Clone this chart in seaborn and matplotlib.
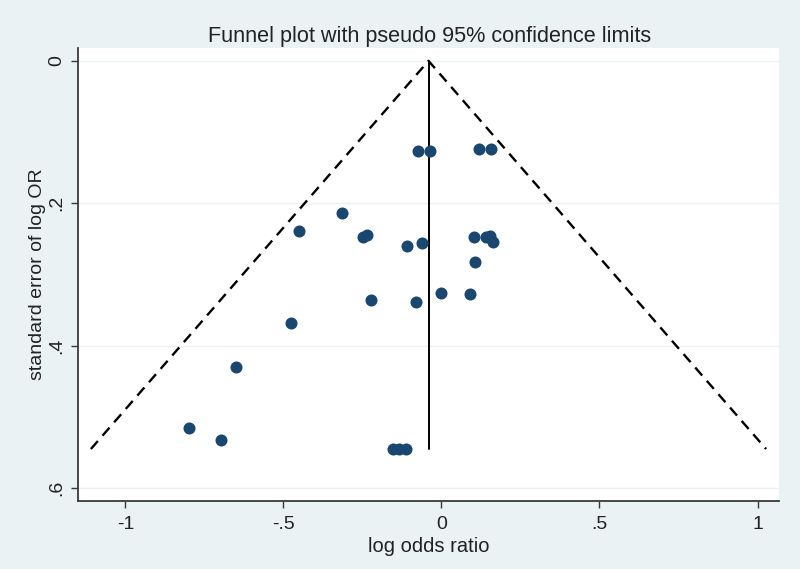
import numpy as np
import pandas as pd
import matplotlib
matplotlib.use("Agg")
import matplotlib.pyplot as plt
import seaborn as sns

# Study estimates (log odds ratio) and their standard errors
log_or = [-0.075, -0.036, 0.119, 0.157, -0.316, -0.450, -0.249, -0.237,
          -0.110, -0.061, 0.103, 0.141, 0.153, 0.162, 0.106, -0.224,
          -0.081, -0.002, 0.091, -0.477, -0.650, -0.799, -0.698,
          -0.153, -0.133, -0.112]
se_log_or = [0.126, 0.126, 0.124, 0.124, 0.213, 0.239, 0.248, 0.245,
             0.260, 0.256, 0.248, 0.248, 0.246, 0.254, 0.283, 0.336,
             0.338, 0.326, 0.328, 0.368, 0.430, 0.515, 0.533,
             0.545, 0.545, 0.545]
pooled_log_or = -0.041
z95 = 1.96

x_ticks = [-1, -0.5, 0, 0.5, 1]
x_tick_labels = ["-1", "-.5", "0", ".5", "1"]
y_ticks = [0, 0.2, 0.4, 0.6]
y_tick_labels = ["0", ".2", ".4", ".6"]

title = "Funnel plot with pseudo 95% confidence limits"
x_label = "log odds ratio"
y_label = "standard error of log OR"

bg = "#EAF2F3"
navy = "#1A476F"
axis_col = "#3A3A3A"

sns.set_theme(style="white")
plt.rcParams["font.family"] = ["Liberation Sans", "DejaVu Sans"]

fig = plt.figure(figsize=(8, 5.69), dpi=100, facecolor=bg)
ax = fig.add_axes([0.0975, 0.1195, 0.87625, 0.7961])
ax.set_facecolor("white")

df = pd.DataFrame({"log_or": log_or, "se": se_log_or})

se_max = max(se_log_or)
funnel = pd.DataFrame({
    "x": [pooled_log_or - z95 * se_max, pooled_log_or, pooled_log_or + z95 * se_max],
    "y": [se_max, 0.0, se_max],
})

# gridlines
for yt in y_ticks:
    ax.axhline(yt, color=bg, lw=1.0, zorder=0)

ax.plot(funnel["x"], funnel["y"], color="black", lw=1.7, ls=(0, (4.5, 3)), zorder=2)
ax.plot([pooled_log_or, pooled_log_or], [0, se_max], color="black", lw=1.4, zorder=2)

sns.scatterplot(data=df, x="log_or", y="se", ax=ax, color=navy, s=75,
                edgecolor=navy, linewidth=0, zorder=3, legend=False)

ax.set_xlim(-1.150, 1.068)
ax.set_ylim(0.618, -0.018)

ax.set_xticks(x_ticks)
ax.set_xticklabels(x_tick_labels)
ax.set_yticks(y_ticks)
ax.set_yticklabels(y_tick_labels, rotation=90, va="center")

ax.tick_params(axis="x", which="major", direction="out", length=5, width=1,
               color=axis_col, labelsize=14, labelcolor="#222222", pad=6, bottom=True)
ax.tick_params(axis="y", which="major", direction="out", length=5, width=1,
               color=axis_col, labelsize=14, labelcolor="#222222", pad=4.5, left=True)

for side in ["top", "right"]:
    ax.spines[side].set_visible(False)
for side in ["left", "bottom"]:
    ax.spines[side].set_color(axis_col)
    ax.spines[side].set_linewidth(1.3)

ax.set_xlabel(x_label, fontsize=14.5, color="#222222", labelpad=3)
ax.set_ylabel(y_label, fontsize=14, color="#222222", labelpad=1.5)
fig.text(0.5365, 0.936, title, ha="center", va="center", fontsize=15.6, color="#222222")

fig.savefig("out.png", dpi=100, facecolor=bg)
